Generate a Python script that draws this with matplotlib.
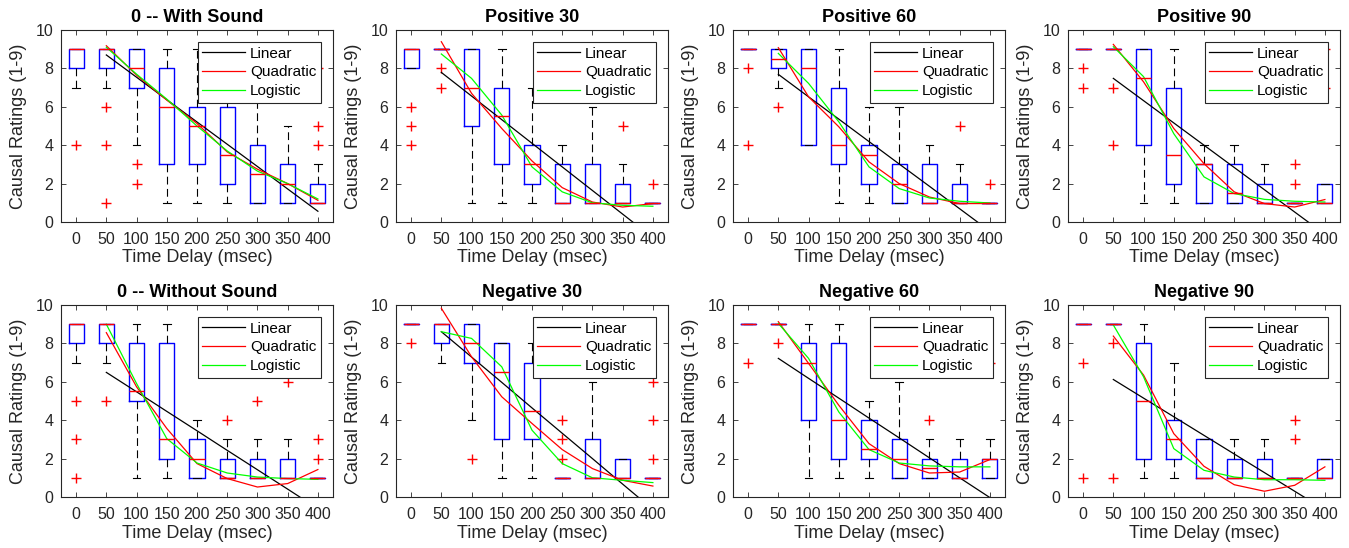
import matplotlib
matplotlib.use("Agg")
import matplotlib.pyplot as plt

plt.rcParams['font.family'] = ['Liberation Sans', 'DejaVu Sans']

# ---- data ------------------------------------------------------------------
DELAYS = [0, 50, 100, 150, 200, 250, 300, 350, 400]
FIT_DELAYS = DELAYS[1:]
TITLES = ["0 -- With Sound", "Positive 30", "Positive 60", "Positive 90",
          "0 -- Without Sound", "Negative 30", "Negative 60", "Negative 90"]

# box statistics, one row per panel, one value per delay
Q1 = [
    [8, 8, 7, 3, 3, 2, 1, 1, 1],
    [8, 9, 5, 3, 2, 1, 1, 1, 1],
    [9, 8, 4, 3, 2, 1, 1, 1, 1],
    [9, 9, 4, 2, 1, 1, 1, 1, 1],
    [8, 8, 5, 2, 1, 1, 1, 1, 1],
    [9, 8, 7, 3, 3, 1, 1, 1, 1],
    [9, 9, 4, 2, 2, 1, 1, 1, 1],
    [9, 9, 2, 2, 1, 1, 1, 1, 1],
]
MEDIAN = [
    [9, 9, 8, 6, 5, 3.5, 2.5, 2, 1],
    [9, 9, 7, 5.5, 3, 1, 1, 1, 1],
    [9, 8.5, 8, 4, 3.5, 2, 1, 1, 1],
    [9, 9, 7.5, 3.5, 3, 1.5, 1, 1, 1],
    [9, 9, 5.5, 3, 2, 1, 1, 1, 1],
    [9, 9, 8, 6.5, 4.5, 1, 1, 1, 1],
    [9, 9, 7, 4, 2.5, 2, 1.5, 1, 2],
    [9, 9, 5, 3, 1, 1, 1, 1, 1],
]
Q3 = [
    [9, 9, 9, 8, 6, 6, 4, 3, 2],
    [9, 9, 9, 7, 4, 3, 3, 2, 1],
    [9, 9, 9, 7, 4, 3, 3, 2, 1],
    [9, 9, 9, 7, 3, 3, 2, 1, 2],
    [9, 9, 8, 8, 3, 2, 2, 2, 1],
    [9, 9, 9, 8, 7, 1, 3, 2, 1],
    [9, 9, 8, 8, 4, 3, 2, 2, 2],
    [9, 9, 8, 4, 3, 2, 2, 1, 2],
]
WHISK_LO = [
    [7, 7, 4, 1, 1, 1, 1, 1, 1],
    [8, 9, 1, 1, 1, 1, 1, 1, 1],
    [9, 7, 4, 1, 1, 1, 1, 1, 1],
    [9, 9, 1, 1, 1, 1, 1, 1, 1],
    [7, 7, 1, 1, 1, 1, 1, 1, 1],
    [9, 7, 4, 1, 1, 1, 1, 1, 1],
    [9, 9, 1, 1, 1, 1, 1, 1, 1],
    [9, 9, 1, 1, 1, 1, 1, 1, 1],
]
WHISK_HI = [
    [9, 9, 9, 9, 9, 9, 8, 5, 3],
    [9, 9, 9, 9, 7, 4, 6, 3, 1],
    [9, 9, 9, 9, 6, 6, 4, 3, 1],
    [9, 9, 9, 9, 4, 4, 3, 1, 2],
    [9, 9, 9, 9, 4, 3, 3, 3, 1],
    [9, 9, 9, 8, 8, 1, 6, 2, 1],
    [9, 9, 9, 9, 5, 6, 3, 3, 3],
    [9, 9, 9, 7, 3, 3, 3, 1, 2],
]
OUTLIERS = [
    [[4], [6, 4, 1], [3, 2], [], [], [], [], [], [8, 5, 4]],
    [[6, 5, 4], [8, 7], [], [], [], [], [], [5], [2]],
    [[8, 4], [6], [], [], [], [], [], [5], [2]],
    [[8, 7], [7, 4], [], [], [], [], [], [3, 2], [9, 7]],
    [[5, 3, 1], [5], [], [], [], [4], [5], [6], [3, 2]],
    [[8], [], [2], [], [], [4, 3, 2], [], [], [6, 4, 2]],
    [[7], [8], [], [], [], [], [4], [], [7]],
    [[7, 1], [8, 1], [], [], [], [], [], [4, 3], []],
]

# fitted curves, evaluated at 50..400 msec
LINEAR = [
    [8.70, 7.54, 6.37, 5.21, 4.05, 2.89, 1.72, 0.56],
    [7.79, 6.56, 5.33, 4.10, 2.87, 1.64, 0.41, -0.82],
    [7.69, 6.52, 5.36, 4.19, 3.02, 1.86, 0.69, -0.48],
    [7.48, 6.32, 5.16, 4.00, 2.84, 1.68, 0.52, -0.64],
    [6.49, 5.48, 4.46, 3.45, 2.43, 1.42, 0.41, -0.61],
    [8.61, 7.29, 5.97, 4.64, 3.32, 2.00, 0.67, -0.65],
    [7.22, 6.18, 5.15, 4.11, 3.08, 2.04, 1.00, -0.03],
    [6.12, 5.15, 4.18, 3.21, 2.24, 1.27, 0.30, -0.67],
]
QUADRATIC = [
    [9.18, 7.65, 6.35, 5.13, 3.65, 2.75, 2.00, 1.13],
    [9.39, 6.70, 4.87, 3.18, 1.79, 1.04, 0.78, 0.96],
    [9.08, 6.52, 4.96, 3.13, 2.00, 1.30, 0.96, 0.96],
    [9.25, 7.30, 4.87, 3.04, 1.57, 0.96, 0.78, 1.17],
    [8.56, 5.74, 3.57, 1.74, 0.96, 0.52, 0.70, 1.43],
    [9.83, 7.30, 5.22, 3.83, 2.47, 1.48, 0.87, 0.57],
    [9.13, 6.96, 4.78, 2.78, 1.74, 1.25, 1.30, 1.95],
    [8.38, 6.35, 3.30, 1.60, 0.64, 0.30, 0.61, 1.57],
]
LOGISTIC = [
    [9.10, 7.70, 6.40, 5.00, 3.70, 2.65, 2.00, 1.20],
    [8.75, 7.48, 5.57, 2.87, 1.57, 1.00, 0.87, 0.82],
    [8.78, 7.22, 5.22, 2.87, 1.74, 1.25, 1.08, 0.99],
    [9.13, 7.57, 4.60, 2.35, 1.48, 1.18, 1.08, 1.04],
    [9.00, 5.91, 3.04, 1.77, 1.25, 1.04, 0.96, 0.92],
    [8.61, 8.26, 6.78, 3.48, 1.74, 1.00, 0.87, 0.75],
    [9.04, 7.22, 4.43, 2.47, 1.77, 1.62, 1.57, 1.57],
    [8.96, 6.26, 2.52, 1.39, 1.04, 0.90, 0.90, 0.87],
]

# ---- layout ----------------------------------------------------------------
W, H = 1349, 548
AX_LEFT_PX = [61, 396, 733, 1068]
AX_TOP_PX = [30, 305]
AX_W_PX, AX_H_PX = 272, 192
AXIS_GRAY = (0.15, 0.15, 0.15)

fig = plt.figure(figsize=(W / 100, H / 100), dpi=100)

positions = list(range(1, len(DELAYS) + 1))
fit_positions = positions[1:]

for i, title in enumerate(TITLES):
    row, col = divmod(i, 4)
    ax = fig.add_axes([AX_LEFT_PX[col] / W, 1 - (AX_TOP_PX[row] + AX_H_PX) / H,
                       AX_W_PX / W, AX_H_PX / H])

    stats = []
    for j in range(len(DELAYS)):
        stats.append({
            "med": MEDIAN[i][j], "q1": Q1[i][j], "q3": Q3[i][j],
            "whislo": WHISK_LO[i][j], "whishi": WHISK_HI[i][j],
            "fliers": OUTLIERS[i][j],
        })
    ax.bxp(stats, positions=positions, widths=0.5, capwidths=0.25,
           boxprops=dict(color="blue", linewidth=1.0),
           medianprops=dict(color="red", linewidth=1.0),
           whiskerprops=dict(color="black", linestyle=(0, (7, 4)), linewidth=0.8),
           capprops=dict(color="black", linewidth=0.8),
           flierprops=dict(marker="+", markeredgecolor="red", markersize=7,
                           markeredgewidth=1.0, linestyle="none"))

    ax.plot(fit_positions, LINEAR[i], color="black", linewidth=0.9, label="Linear")
    ax.plot(fit_positions, QUADRATIC[i], color="red", linewidth=0.9, label="Quadratic")
    ax.plot(fit_positions, LOGISTIC[i], color=(0, 1, 0), linewidth=0.9, label="Logistic")

    ax.set_xlim(0.5, len(DELAYS) + 0.5)
    ax.set_ylim(0, 10)
    ax.set_xticks(positions)
    ax.set_xticklabels([str(d) for d in DELAYS])
    ax.set_yticks([0, 2, 4, 6, 8, 10])
    ax.tick_params(direction="in", top=True, right=True, length=3.5, width=0.6,
                   labelsize=11.5, colors=AXIS_GRAY)
    ax.tick_params(axis="x", pad=7)
    ax.tick_params(axis="y", pad=5.5)
    for sp in ax.spines.values():
        sp.set_color(AXIS_GRAY)
        sp.set_linewidth(0.8)

    ax.set_title(title, fontsize=13, fontweight="bold", pad=6)
    ax.set_xlabel("Time Delay (msec)", fontsize=13, color=AXIS_GRAY, labelpad=2)
    ax.set_ylabel("Causal Ratings (1-9)", fontsize=13, color=AXIS_GRAY, labelpad=6)

    leg = ax.legend(loc="upper right", fontsize=11, frameon=True, fancybox=False,
                    framealpha=1, edgecolor=AXIS_GRAY, borderpad=0.3,
                    labelspacing=0.3, handlelength=2.8, handletextpad=0.3,
                    borderaxespad=0.8)
    leg.get_frame().set_linewidth(0.8)

fig.savefig("out.png", dpi=100)
